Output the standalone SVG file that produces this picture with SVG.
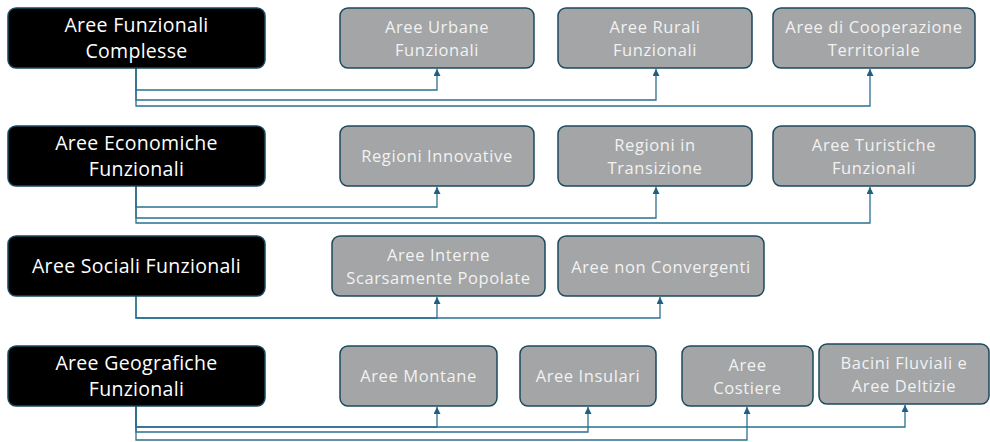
<svg xmlns="http://www.w3.org/2000/svg" width="990" height="442" viewBox="0 0 990 442">
<style>
.cat rect{fill:#000;stroke:#1b4a5f;stroke-width:1.5}
.sub rect{fill:#a3a5a6;stroke:#1b4a5f;stroke-width:1.5}
.cat text{fill:#fff;font-family:"Open Sans",sans-serif;font-size:19.5px;letter-spacing:0.3px;text-anchor:middle}
.sub text{fill:#f2f2f2;font-family:"Open Sans",sans-serif;font-size:16.5px;letter-spacing:0.6px;text-anchor:middle}
.conn polyline{fill:none;stroke:#2b7090;stroke-width:1.3}
</style>
<defs>
<marker id="ah" viewBox="0 0 10 10" refX="10" refY="5" markerWidth="7" markerHeight="7" markerUnits="userSpaceOnUse" orient="auto">
<path d="M0,0 L10,5 L0,10 Z" fill="#1f5f7f"/>
</marker>
</defs>
<g class="conn">
<polyline points="136,68 136,90 437,90 437,69" marker-end="url(#ah)"/>
<polyline points="136,68 136,100 656,100 656,69" marker-end="url(#ah)"/>
<polyline points="136,68 136,106 870,106 870,69" marker-end="url(#ah)"/>
<polyline points="136,186 136,207 437,207 437,187" marker-end="url(#ah)"/>
<polyline points="136,186 136,218 656,218 656,187" marker-end="url(#ah)"/>
<polyline points="136,186 136,223 870,223 870,187" marker-end="url(#ah)"/>
<polyline points="136,296 136,318 437,318 437,297" marker-end="url(#ah)"/>
<polyline points="136,296 136,318 660,318 660,297" marker-end="url(#ah)"/>
<polyline points="136,406 136,427 437,427 437,407" marker-end="url(#ah)"/>
<polyline points="136,406 136,432 588,432 588,407" marker-end="url(#ah)"/>
<polyline points="136,406 136,440 747,440 747,407" marker-end="url(#ah)"/>
<polyline points="136,406 136,427 905,427 905,405" marker-end="url(#ah)"/>
</g>
<g id="afc" class="cat"><rect x="8" y="8" width="257" height="60" rx="8"/><text x="136.5" y="32">Aree Funzionali</text><text x="136.5" y="58">Complesse</text></g>
<g id="aeuf" class="sub"><rect x="340" y="8" width="194" height="60" rx="8"/><text x="437" y="33">Aree Urbane</text><text x="437" y="56">Funzionali</text></g>
<g id="arf" class="sub"><rect x="558" y="8" width="194" height="60" rx="8"/><text x="655" y="33">Aree Rurali</text><text x="655" y="56">Funzionali</text></g>
<g id="act" class="sub"><rect x="773" y="8" width="202" height="60" rx="8"/><text x="874" y="33">Aree di Cooperazione</text><text x="874" y="56">Territoriale</text></g>
<g id="aef" class="cat"><rect x="8" y="126" width="257" height="60" rx="8"/><text x="136.5" y="150">Aree Economiche</text><text x="136.5" y="176">Funzionali</text></g>
<g id="ri" class="sub"><rect x="340" y="126" width="194" height="60" rx="8"/><text x="437" y="162">Regioni Innovative</text></g>
<g id="rt" class="sub"><rect x="558" y="126" width="194" height="60" rx="8"/><text x="655" y="151">Regioni in</text><text x="655" y="174">Transizione</text></g>
<g id="atf" class="sub"><rect x="773" y="126" width="202" height="60" rx="8"/><text x="874" y="151">Aree Turistiche</text><text x="874" y="174">Funzionali</text></g>
<g id="asf" class="cat"><rect x="8" y="236" width="257" height="60" rx="8"/><text x="136.5" y="273">Aree Sociali Funzionali</text></g>
<g id="aisp" class="sub"><rect x="332" y="236" width="213" height="60" rx="8"/><text x="438.5" y="261">Aree Interne</text><text x="438.5" y="284">Scarsamente Popolate</text></g>
<g id="anc" class="sub"><rect x="558" y="236" width="206" height="60" rx="8"/><text x="661" y="272.5">Aree non Convergenti</text></g>
<g id="agf" class="cat"><rect x="8" y="346" width="257" height="60" rx="8"/><text x="136.5" y="370">Aree Geografiche</text><text x="136.5" y="396">Funzionali</text></g>
<g id="am" class="sub"><rect x="340" y="346" width="157" height="60" rx="8"/><text x="418.5" y="382">Aree Montane</text></g>
<g id="ains" class="sub"><rect x="520" y="346" width="136" height="60" rx="8"/><text x="588" y="382">Aree Insulari</text></g>
<g id="ac" class="sub"><rect x="682" y="346" width="131" height="60" rx="8"/><text x="747.5" y="371">Aree</text><text x="747.5" y="394">Costiere</text></g>
<g id="bf" class="sub"><rect x="819" y="344" width="170" height="60" rx="8"/><text x="904" y="369">Bacini Fluviali e</text><text x="904" y="392">Aree Deltizie</text></g>
</svg>
